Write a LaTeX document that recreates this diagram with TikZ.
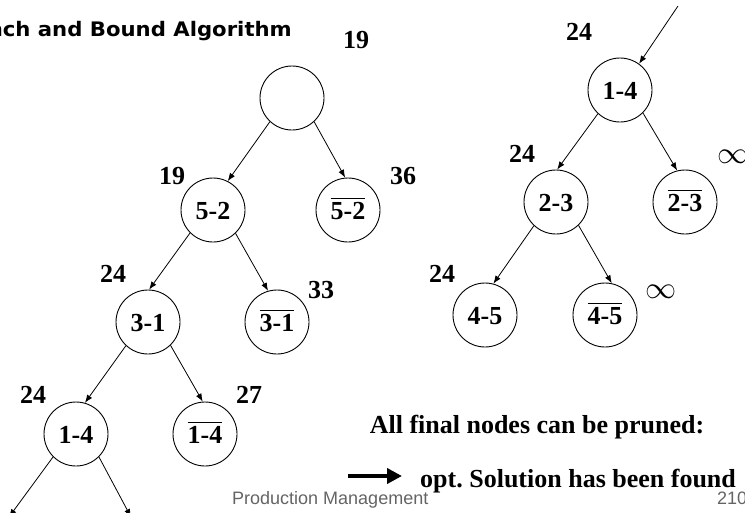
\documentclass[tikz,border=0pt]{standalone}
\usepackage{fontspec}
\usepackage{graphicx}
\setmainfont{Liberation Serif}
\newfontfamily\headfont{DejaVu Sans}
\newfontfamily\footfont{Liberation Sans}
\usetikzlibrary{arrows.meta}
\definecolor{footgray}{RGB}{100,100,100}
% complemented (excluded) arc: label with a bar over it
\newcommand{\cmpl}[1]{$\overline{\rule{0pt}{19.5pt}\mbox{#1}}$}
% infinite bound
\newcommand{\infbound}{\scalebox{1.5}{$\infty$}}
\frenchspacing

\begin{document}
\begin{tikzpicture}[x=1pt,y=-1pt,
  bnode/.style={circle, draw, line width=0.9pt, minimum size=64pt, inner sep=0pt,
                text height=18pt, text depth=0pt,
                font=\fontsize{26}{27}\selectfont\bfseries},
  bound/.style={inner sep=0pt, font=\fontsize{26}{27}\selectfont\bfseries},
  infl/.style={inner sep=0pt, font=\fontsize{20.74}{21}\selectfont},
  branch/.style={line width=0.8pt, -{Latex[length=8pt,width=6pt]}},
  foot/.style={inner sep=0pt, text=footgray, font=\footfont\fontsize{18}{18}\selectfont}]
\useasboundingbox (0,0) rectangle (745,512);

% title
\node[anchor=base east, inner sep=0pt, font=\headfont\bfseries\fontsize{20}{20}\selectfont]
  (title) at (292,36) {\scalebox{1.06}[1]{Branch and Bound Algorithm}};

% left tree
\node[bnode] (r0) at (292,98) {};
\node[bnode] (a)  at (213,210) {5-2};
\node[bnode] (ab) at (348,210) {\cmpl{5-2}};
\node[bnode] (b)  at (148,322) {3-1};
\node[bnode] (bb) at (277,322) {\cmpl{3-1}};
\node[bnode] (c)  at (76,434) {1-4};
\node[bnode] (cb) at (205,434) {\cmpl{1-4}};
\coordinate (cl) at (9,517);
\coordinate (cr) at (131,517);

\node[bound] (lr0) at (356,40) {19};
\node[bound] (la)  at (172,176) {19};
\node[bound] (lab) at (403,176) {36};
\node[bound] (lb)  at (113,274) {24};
\node[bound] (lbb) at (321,290) {33};
\node[bound] (lc)  at (33,395) {24};
\node[bound] (lcb) at (249,395) {27};

\draw[branch] (r0.227) -- (a.63);
\draw[branch] (r0.313) -- (ab.95);
\draw[branch] (a.225) -- (b.88);
\draw[branch] (a.314) -- (bb.106);
\draw[branch] (b.227) -- (c.74);
\draw[branch] (b.314) -- (cb.94);
\draw[branch] (c.225) -- (cl);
\draw[branch] (c.315) -- (cr);

% right tree
\coordinate (din) at (678,6);
\node[bnode] (d)  at (620,90) {1-4};
\node[bnode] (e)  at (556,202) {2-3};
\node[bnode] (eb) at (685,202) {\cmpl{2-3}};
\node[bnode] (f)  at (485,315) {4-5};
\node[bnode] (fb) at (605,315) {\cmpl{4-5}};

\node[bound] (ld) at (579,32) {24};
\node[bound] (le) at (522,154) {24};
\node[infl]  (leb) at (733,157) {\infbound};
\node[bound] (lf) at (442,274) {24};
\node[infl]  (lfb) at (661,292) {\infbound};

\draw[branch] (din) -- (d.54);
\draw[branch] (d.227) -- (e.88);
\draw[branch] (d.315) -- (eb.104);
\draw[branch] (e.227) -- (f.75);
\draw[branch] (e.314) -- (fb.78);

% conclusion
\node[bound, anchor=base] (t1) at (537,433) {All final nodes can be pruned:};
\node[bound, anchor=base west] (t2) at (420,487) {opt. Solution has been found};
\coordinate (as) at (348,476);
\draw[line width=4.5pt, -{Triangle[length=15pt,width=15pt]}, shorten >=18pt] (as) -- (as -| t2.west);

% footer
\node[foot, anchor=base west] (ft) at (232,504) {Production Management};
\node[foot, anchor=base west] (pg) at (717,504) {210};
\end{tikzpicture}
\end{document}
